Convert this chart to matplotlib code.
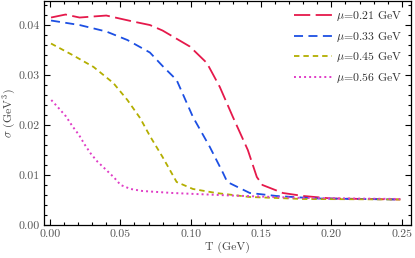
import numpy as np
import matplotlib
matplotlib.use('Agg')
import matplotlib.pyplot as plt
from matplotlib.ticker import MultipleLocator, FormatStrFormatter

plt.rcParams['font.family'] = ['cmr10', 'DejaVu Serif']
plt.rcParams['mathtext.fontset'] = 'cm'
plt.rcParams['axes.formatter.use_mathtext'] = True

# sigma(T) curves, T in GeV
T_021 = [0.0007, 0.011, 0.021, 0.040, 0.059, 0.071, 0.080, 0.0994, 0.1115, 0.1207,
         0.130, 0.1406, 0.147, 0.151, 0.1655, 0.180, 0.200, 0.249]
s_021 = [0.0415, 0.0421, 0.0415, 0.0419, 0.0407, 0.0400, 0.0389, 0.0357, 0.0324, 0.0276,
         0.0216, 0.0150, 0.0096, 0.0080, 0.0064, 0.0058, 0.0053, 0.0051]

T_033 = [0.0007, 0.021, 0.040, 0.055, 0.071, 0.080, 0.090, 0.1016, 0.1136, 0.123,
         0.126, 0.142, 0.161, 0.190, 0.249]
s_033 = [0.0409, 0.0400, 0.0387, 0.0370, 0.0345, 0.0318, 0.0290, 0.0216, 0.0156, 0.0104,
         0.0086, 0.0064, 0.0058, 0.0053, 0.0051]

T_045 = [0.0007, 0.016, 0.031, 0.045, 0.055, 0.064, 0.071, 0.080, 0.090, 0.1016,
         0.118, 0.142, 0.180, 0.249]
s_045 = [0.0363, 0.0340, 0.0316, 0.0284, 0.0250, 0.0214, 0.0178, 0.0136, 0.0086, 0.0072,
         0.0064, 0.0056, 0.0052, 0.0051]

T_056 = [0.0009, 0.0064, 0.0114, 0.0158, 0.0206, 0.0246, 0.0289, 0.0336, 0.0396, 0.0455,
         0.0502, 0.0573, 0.0656, 0.087, 0.128, 0.180, 0.249]
s_056 = [0.0250, 0.0233, 0.0217, 0.0198, 0.0180, 0.0161, 0.0143, 0.0127, 0.0111, 0.0095,
         0.0080, 0.0072, 0.0068, 0.0064, 0.0059, 0.0054, 0.0052]

labels = [r'$\mu$=0.21 GeV', r'$\mu$=0.33 GeV', r'$\mu$=0.45 GeV', r'$\mu$=0.56 GeV']

fig = plt.figure(figsize=(4.15, 2.58), dpi=100)
ax = fig.add_axes([0.107, 0.128, 0.883, 0.868])

ax.plot(T_021, s_021, color='#e5194b', lw=1.3, dashes=(9, 3), label=labels[0])
ax.plot(T_033, s_033, color='#1c4fe3', lw=1.3, dashes=(5, 3), label=labels[1])
ax.plot(T_045, s_045, color='#b3ae00', lw=1.3, dashes=(3, 2.2), label=labels[2])
ax.plot(T_056, s_056, color='#e03cc6', lw=1.4, dashes=(1, 1.6), label=labels[3])

ax.set_xlim(-0.004, 0.2565)
ax.set_ylim(0, 0.0448)
ax.xaxis.set_major_locator(MultipleLocator(0.05))
ax.xaxis.set_minor_locator(MultipleLocator(0.01))
ax.yaxis.set_major_locator(MultipleLocator(0.01))
ax.yaxis.set_minor_locator(MultipleLocator(0.002))
ax.xaxis.set_major_formatter(FormatStrFormatter('%.2f'))
ax.yaxis.set_major_formatter(FormatStrFormatter('%.2f'))
ax.tick_params(which='both', direction='in', top=True, right=True,
               labelsize=8.5, labelcolor='#555555', width=0.8)
ax.tick_params(which='major', length=4)
ax.tick_params(which='minor', length=2)
for sp in ax.spines.values():
    sp.set_linewidth(0.9)

ax.set_xlabel('T (GeV)', fontsize=8.5, color='#444444', labelpad=2)
ax.set_ylabel(r'$\sigma$ (GeV$^3$)', fontsize=8.5, color='#444444')
ax.yaxis.set_label_coords(-0.071, 0.5)

leg = ax.legend(loc='upper right', frameon=False, fontsize=8.5, handlelength=3.2,
                handletextpad=0.4, labelspacing=0.55, borderaxespad=0.3)
for t in leg.get_texts():
    t.set_color('#333333')

fig.savefig('out.png', dpi=100)
